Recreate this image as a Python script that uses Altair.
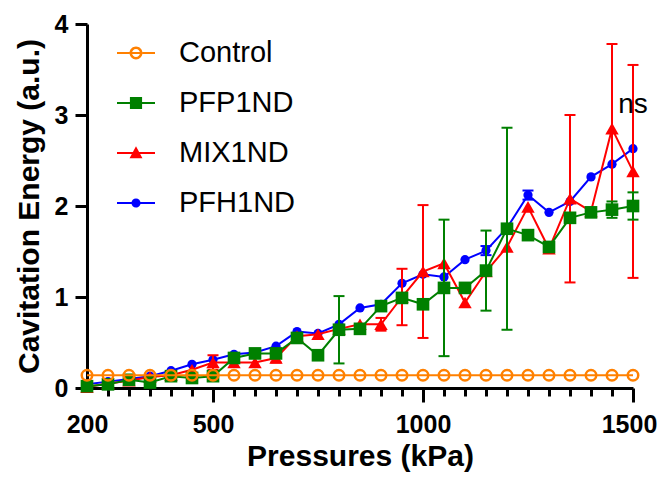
import altair as alt
import pandas as pd

# ---------------- data ----------------
pressures = [200, 250, 300, 350, 400, 450, 500, 550, 600, 650, 700, 750, 800, 850,
             900, 950, 1000, 1050, 1100, 1150, 1200, 1250, 1300, 1350, 1400, 1450, 1500]

control = [0.14, 0.14, 0.14, 0.14, 0.14, 0.14, 0.14, 0.14, 0.14, 0.14, 0.14, 0.14, 0.14, 0.14,
           0.14, 0.14, 0.14, 0.14, 0.14, 0.14, 0.14, 0.14, 0.14, 0.14, 0.14, 0.14, 0.14]
pfp1nd = [0.02, 0.04, 0.09, 0.06, 0.13, 0.11, 0.13, 0.33, 0.38, 0.38, 0.55, 0.36, 0.64, 0.65,
          0.90, 0.99, 0.92, 1.10, 1.10, 1.29, 1.75, 1.68, 1.55, 1.87, 1.93, 1.96, 2.00]
mix1nd = [0.01, 0.05, 0.08, 0.12, 0.14, 0.20, 0.28, 0.28, 0.28, 0.33, 0.57, 0.59, 0.65, 0.70,
          0.70, 1.00, 1.28, 1.37, 0.94, 1.28, 1.55, 1.99, 1.53, 2.08, 1.94, 2.85, 2.38]
pfh1nd = [0.04, 0.07, 0.10, 0.13, 0.19, 0.26, 0.31, 0.37, 0.39, 0.46, 0.62, 0.60, 0.70, 0.88,
          0.92, 1.15, 1.25, 1.22, 1.41, 1.51, 1.76, 2.12, 1.93, 2.05, 2.32, 2.46, 2.63]

# visible error bars (pressure, half-width)
pfp1nd_err_p = [800, 1050, 1150, 1200, 1450, 1500]
pfp1nd_err = [0.37, 0.75, 0.44, 1.11, 0.09, 0.15]
mix1nd_err_p = [500, 650, 900, 950, 1000, 1350, 1450, 1500]
mix1nd_err = [0.08, 0.05, 0.07, 0.31, 0.73, 0.92, 0.93, 1.17]
pfh1nd_err_p = [1150, 1250]
pfh1nd_err = [0.05, 0.05]

annot_text = ["ns"]
annot_x = [1500]
annot_y = [3.02]

series_names = ["Control", "PFP1ND", "MIX1ND", "PFH1ND"]
series_colors = ["#FF8000", "#008000", "#FF0000", "#0000FF"]

x_ticks = pressures
x_label_values = [200, 500, 1000, 1500]
y_ticks = [0, 1, 2, 3, 4]

# ---------------- tables ----------------
values = {"Control": control, "PFP1ND": pfp1nd, "MIX1ND": mix1nd, "PFH1ND": pfh1nd}
rows = []
for s in series_names:
    for p, v in zip(pressures, values[s]):
        rows.append({"series": s, "pressure": p, "value": v})
df = pd.DataFrame(rows)

errs = {"PFP1ND": (pfp1nd_err_p, pfp1nd_err, pfp1nd),
        "MIX1ND": (mix1nd_err_p, mix1nd_err, mix1nd),
        "PFH1ND": (pfh1nd_err_p, pfh1nd_err, pfh1nd)}
erows = []
for s, (ps, es, vals) in errs.items():
    for p, e in zip(ps, es):
        v = vals[pressures.index(p)]
        erows.append({"series": s, "pressure": p, "lo": v - e, "hi": v + e})
edf = pd.DataFrame(erows)

adf = pd.DataFrame({"pressure": annot_x, "value": annot_y, "text": annot_text})

# ---------------- scales / axes ----------------
FONT = "Liberation Sans"
x_scale = alt.Scale(domain=[200, 1500], nice=False, zero=False)
y_scale = alt.Scale(domain=[0, 4], nice=False)

lab_test = "indexof(" + str(x_label_values) + ", datum.value) >= 0"
x_axis = alt.Axis(
    values=x_ticks, format="d",
    labelExpr=f"{lab_test} ? datum.label : ''",
    tickSize={"condition": {"test": lab_test, "value": 14}, "value": 8},
    tickColor={"condition": {"test": "datum.value == 200", "value": "transparent"}, "value": "black"},
    labelOffset={"condition": {"test": "datum.value == 1500", "value": -4}, "value": 0},
    tickWidth=3, domainWidth=3, domainColor="black", grid=False,
    labelFont=FONT, labelFontWeight="bold", labelFontSize=25, labelColor="black",
    labelPadding=10, labelOverlap=False, labelFlush=False, labelBound=False,
    title="Pressures (kPa)", titleFont=FONT, titleFontWeight="bold", titleFontSize=30,
    titleColor="black", titlePadding=4,
)
y_axis = alt.Axis(
    values=y_ticks, format="d", tickSize=12, tickWidth=3, domainWidth=3, domainColor="black",
    tickColor="black", grid=False,
    labelFont=FONT, labelFontWeight="bold", labelFontSize=25, labelColor="black", labelPadding=7,
    title="Cavitation Energy (a.u.)", titleFont=FONT, titleFontWeight="bold", titleFontSize=30,
    titleColor="black", titlePadding=10,
)


def X(field="pressure"):
    return alt.X(f"{field}:Q", scale=x_scale, axis=x_axis)


def Y(field="value"):
    return alt.Y(f"{field}:Q", scale=y_scale, axis=y_axis)


marker = {
    "Control": dict(shape="circle", filled=False, size=110, strokeWidth=2.5),
    "PFP1ND": dict(shape="square", filled=True, size=160),
    "MIX1ND": dict(shape="triangle-up", filled=True, size=180),
    "PFH1ND": dict(shape="circle", filled=True, size=85),
}

layers = []
draw_order = ["PFH1ND", "MIX1ND", "PFP1ND", "Control"]
for s in draw_order:
    c = series_colors[series_names.index(s)]
    sel = alt.datum.series == s
    layers.append(alt.Chart(df).transform_filter(sel)
                  .mark_line(color=c, strokeWidth=2)
                  .encode(x=X(), y=Y()))
    if s in errs:
        layers.append(alt.Chart(edf).transform_filter(sel)
                      .mark_rule(color=c, strokeWidth=2)
                      .encode(x=X(), y=Y("lo"), y2="hi:Q"))
        for f in ["lo", "hi"]:
            layers.append(alt.Chart(edf).transform_filter(sel)
                          .mark_tick(color=c, orient="horizontal", size=11, thickness=2, opacity=1)
                          .encode(x=X(), y=Y(f)))
    layers.append(alt.Chart(df).transform_filter(sel)
                  .mark_point(color=c, opacity=1, **marker[s])
                  .encode(x=X(), y=Y()))

layers.append(alt.Chart(adf).mark_text(font=FONT, fontSize=28, color="black",
                                       align="center", baseline="alphabetic")
              .encode(x=X(), y=Y(), text="text:N"))

# legend: line + marker drawn as filled geometry (units: 1 = half of legend symbol width)
R = "M-1,-0.053H1V0.053H-1Z"
legend_paths = [
    "M-1,-0.053H-0.34V0.053H-1Z M0.34,-0.053H1V0.053H0.34Z M-0.21,-0.053H0.21V0.053H-0.21Z "
    "M0.34,0A0.34,0.34 0 1 1 -0.34,0A0.34,0.34 0 1 1 0.34,0Z "
    "M0.21,0A0.21,0.21 0 1 0 -0.21,0A0.21,0.21 0 1 0 0.21,0Z",
    R + " M-0.32,-0.32H0.32V0.32H-0.32Z",
    R + " M0,-0.36L0.34,0.27H-0.34Z",
    R + " M0.24,0A0.24,0.24 0 1 1 -0.24,0A0.24,0.24 0 1 1 0.24,0Z",
]
leg = alt.Legend(title=None, orient="none", legendX=30, legendY=10, padding=0,
                 labelFont=FONT, labelFontSize=29, labelColor="black", labelOffset=24,
                 rowPadding=16, symbolSize=1444, symbolStrokeWidth=0, labelLimit=300)
layers.append(alt.Chart(df).transform_filter("false")
              .mark_point(filled=True, opacity=1)
              .encode(x=X(), y=Y(),
                      color=alt.Color("series:N", scale=alt.Scale(domain=series_names, range=series_colors), legend=leg),
                      shape=alt.Shape("series:N", scale=alt.Scale(domain=series_names, range=legend_paths), legend=leg)))

chart = (alt.layer(*layers)
         .properties(width=546, height=364,
                     padding={"left": 79, "top": 16, "right": 25, "bottom": 85},
                     autosize=alt.AutoSizeParams(type="none"),
                     background="white")
         .configure_view(stroke=None))

chart.save("out.html", embed_options={"renderer": "svg", "actions": False})
